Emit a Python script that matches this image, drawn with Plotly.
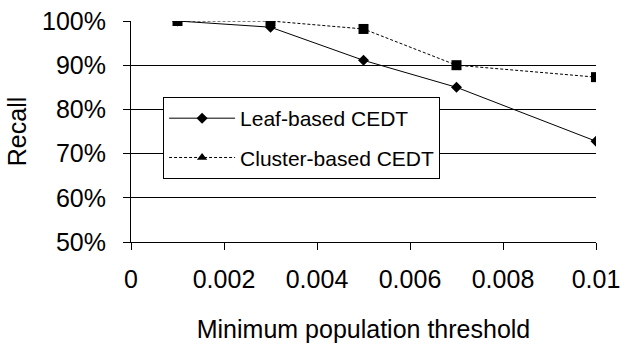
import plotly.graph_objects as go

# Recall vs. minimum population threshold for two CEDT variants
thresholds = [0.001, 0.003, 0.005, 0.007, 0.01]
leaf_recall = [100.0, 98.6, 91.1, 85.0, 72.8]
cluster_recall = [100.0, 100.0, 98.2, 90.0, 87.3]

x_tick_vals = [0, 0.002, 0.004, 0.006, 0.008, 0.01]
x_tick_text = ["0", "0.002", "0.004", "0.006", "0.008", "0.01"]
y_tick_vals = [50, 60, 70, 80, 90, 100]
y_tick_text = ["50%", "60%", "70%", "80%", "90%", "100%"]

FONT = "Arial, 'Liberation Sans', sans-serif"

fig = go.Figure()

fig.add_trace(go.Scatter(
    x=thresholds, y=leaf_recall, mode="lines+markers",
    name="Leaf-based CEDT", legendgroup="leaf",
    line=dict(color="black", width=1),
    marker=dict(symbol="diamond", size=8.5, color="black"),
))
fig.add_trace(go.Scatter(
    x=thresholds, y=cluster_recall, mode="lines+markers",
    name="Cluster-based CEDT", legendgroup="cluster", showlegend=False,
    line=dict(color="black", width=1, dash="3px,2px"),
    marker=dict(symbol="square", size=10, color="black"),
))
# legend entry for the cluster series (triangle key)
fig.add_trace(go.Scatter(
    x=[None], y=[None], mode="lines+markers",
    name="Cluster-based CEDT", legendgroup="cluster",
    line=dict(color="black", width=1, dash="3px,2px"),
    marker=dict(symbol="triangle-up", size=9, color="black"),
))

fig.update_layout(
    width=625, height=348,
    margin=dict(l=131, r=29, t=21, b=106, autoexpand=False),
    paper_bgcolor="white", plot_bgcolor="white",
    font=dict(family=FONT, size=25, color="black"),
    legend=dict(
        x=0.069, y=0.656, xanchor="left", yanchor="top",
        bgcolor="white", bordercolor="black", borderwidth=1,
        font=dict(family=FONT, size=21, color="black"),
        itemwidth=66, tracegroupgap=9, traceorder="grouped",
    ),
    xaxis=dict(
        range=[0, 0.01], tickvals=x_tick_vals, ticktext=x_tick_text,
        showgrid=False, zeroline=False, automargin=False,
        showline=True, linecolor="black", linewidth=1,
        ticks="outside", ticklen=7, tickcolor="black",
        ticklabelstandoff=8,
        title=dict(text="Minimum population threshold", standoff=28,
                   font=dict(size=25)),
    ),
    yaxis=dict(
        range=[50, 100], tickvals=y_tick_vals, ticktext=y_tick_text,
        showgrid=True, gridcolor="black", gridwidth=1, zeroline=False,
        automargin=False,
        showline=True, linecolor="black", linewidth=1,
        ticks="outside", ticklen=7, tickcolor="black",
        ticklabelstandoff=12,
        title=dict(text="Recall", standoff=8, font=dict(size=25)),
    ),
)

fig.write_html("out.html")
